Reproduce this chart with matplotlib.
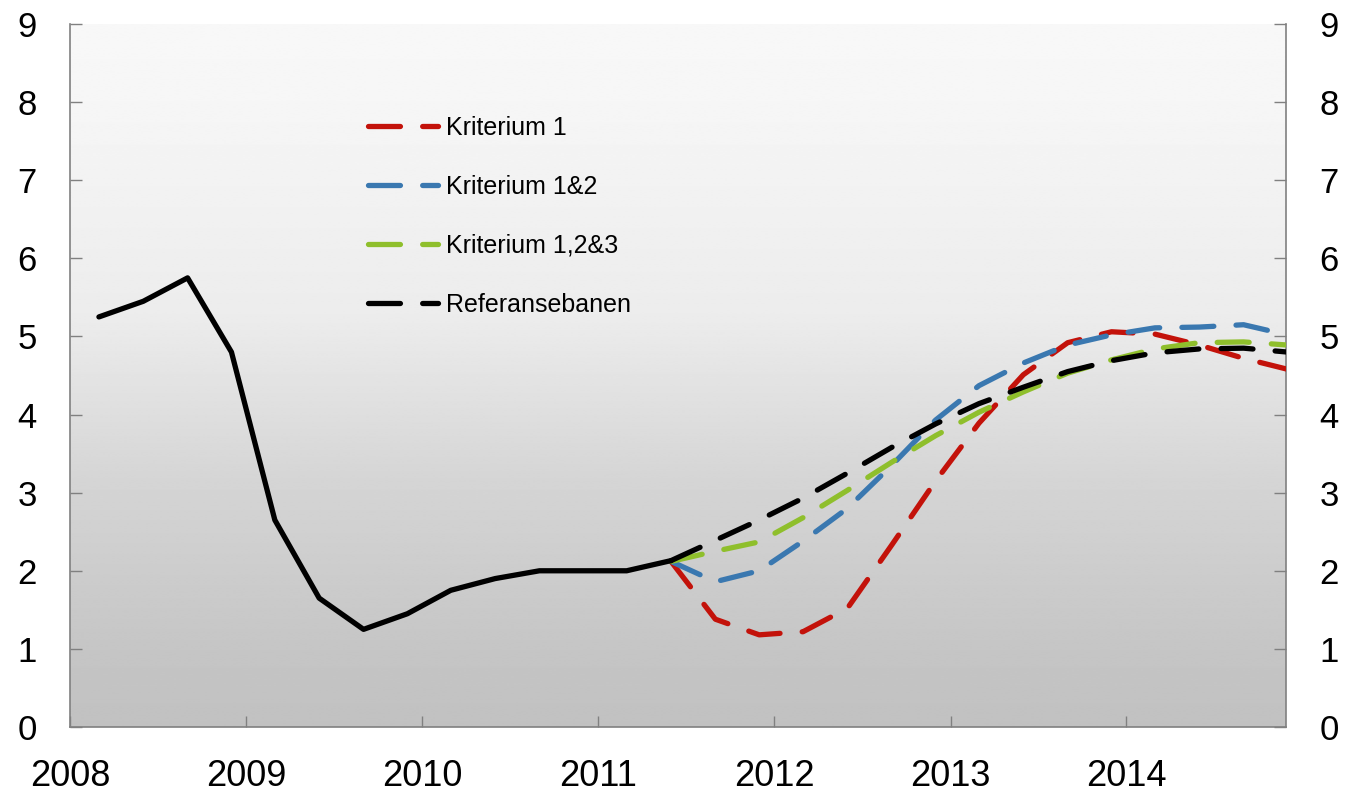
import numpy as np
import pandas as pd
import matplotlib
matplotlib.use('Agg')
import matplotlib.pyplot as plt
import matplotlib.dates as mdates

plt.rcParams['font.family'] = ['Liberation Sans', 'DejaVu Sans']
plt.rcParams['lines.scale_dashes'] = False

# historisk styringsrente, kvartalsvis (mars 2008 - juni 2011)
hist_dates = pd.date_range('2008-03-01', '2011-06-01', freq='3MS')
hist = [5.25, 5.45, 5.75, 4.8, 2.65, 1.65, 1.25, 1.45, 1.75, 1.9, 2.0, 2.0, 2.0, 2.13]

# rentebaner (juni 2011 - desember 2014)
path_dates = pd.date_range('2011-06-01', '2014-12-01', freq='3MS')
krit1 = [2.12, 1.38, 1.18, 1.22, 1.52, 2.33, 3.15, 3.89, 4.51, 4.92, 5.06, 5.03, 4.89, 4.72, 4.58]
krit12 = [2.12, 1.86, 2.0, 2.38, 2.80, 3.35, 3.93, 4.37, 4.66, 4.89, 5.02, 5.11, 5.12, 5.15, 5.02]
krit123 = [2.12, 2.25, 2.37, 2.68, 3.03, 3.39, 3.73, 4.03, 4.29, 4.53, 4.70, 4.84, 4.92, 4.93, 4.89]
referanse = [2.13, 2.39, 2.65, 2.93, 3.25, 3.58, 3.88, 4.14, 4.35, 4.55, 4.69, 4.79, 4.84, 4.85, 4.80]

labels = ['Kriterium 1', 'Kriterium 1&2', 'Kriterium 1,2&3', 'Referansebanen']
colors = ['#c3120a', '#3a78b0', '#8fbf2c', '#000000']
years = [2008, 2009, 2010, 2011, 2012, 2013, 2014]

fig = plt.figure(figsize=(13.48, 7.97), dpi=100)
ax = fig.add_axes([70 / 1348, 1 - 727 / 797, 1216 / 1348, 703 / 797])

# gradert bakgrunn (lys øverst, grå nederst)
stops = [0.0, 0.1, 0.25, 0.35, 0.58, 0.89, 1.0]
greys = [0.757, 0.772, 0.81, 0.835, 0.925, 0.965, 0.972]
g = np.interp(np.linspace(0, 1, 400), stops, greys)
grad = np.repeat(g[:, None], 2, axis=1)
ax.imshow(grad, extent=[0, 1, 0, 1], transform=ax.transAxes, origin='lower',
          cmap='gray', vmin=0, vmax=1, aspect='auto', zorder=0, interpolation='bilinear')

lw = 3.8
dash = (0, (23, 16))
for vals, c, lab in zip([krit1, krit12, krit123, referanse], colors, labels):
    ax.plot(path_dates, vals, color=c, lw=lw, linestyle=dash, dash_capstyle='round',
            solid_joinstyle='round', label=lab, zorder=3)
ax.plot(hist_dates, hist, color='black', lw=lw, solid_capstyle='round',
        solid_joinstyle='round', zorder=4)

ax.set_xlim(pd.Timestamp('2008-01-01'), pd.Timestamp('2014-11-28'))
ax.set_ylim(0, 9)
ax.set_yticks(range(0, 10))
ax.set_xticks([pd.Timestamp(f'{y}-01-01') for y in years])
ax.xaxis.set_major_formatter(mdates.DateFormatter('%Y'))

for s in ['left', 'right', 'bottom']:
    ax.spines[s].set_color('#808080')
    ax.spines[s].set_linewidth(1.2)
ax.spines['top'].set_visible(False)

ax.tick_params(axis='y', which='both', direction='in', length=8.6, width=1,
               color='#808080', left=True, right=True, labelleft=True,
               labelright=True, labelsize=25, pad=24)
ax.tick_params(axis='x', direction='in', length=8, width=1, color='#808080',
               labelsize=26, pad=23)

leg = ax.legend(loc='upper left', bbox_to_anchor=((368.5 - 70) / 1216, (727 - 116) / 703),
                frameon=False, fontsize=18, borderpad=0, borderaxespad=0,
                handlelength=2.8, handletextpad=0.3, labelspacing=1.4)

fig.savefig('out.png', dpi=100)
